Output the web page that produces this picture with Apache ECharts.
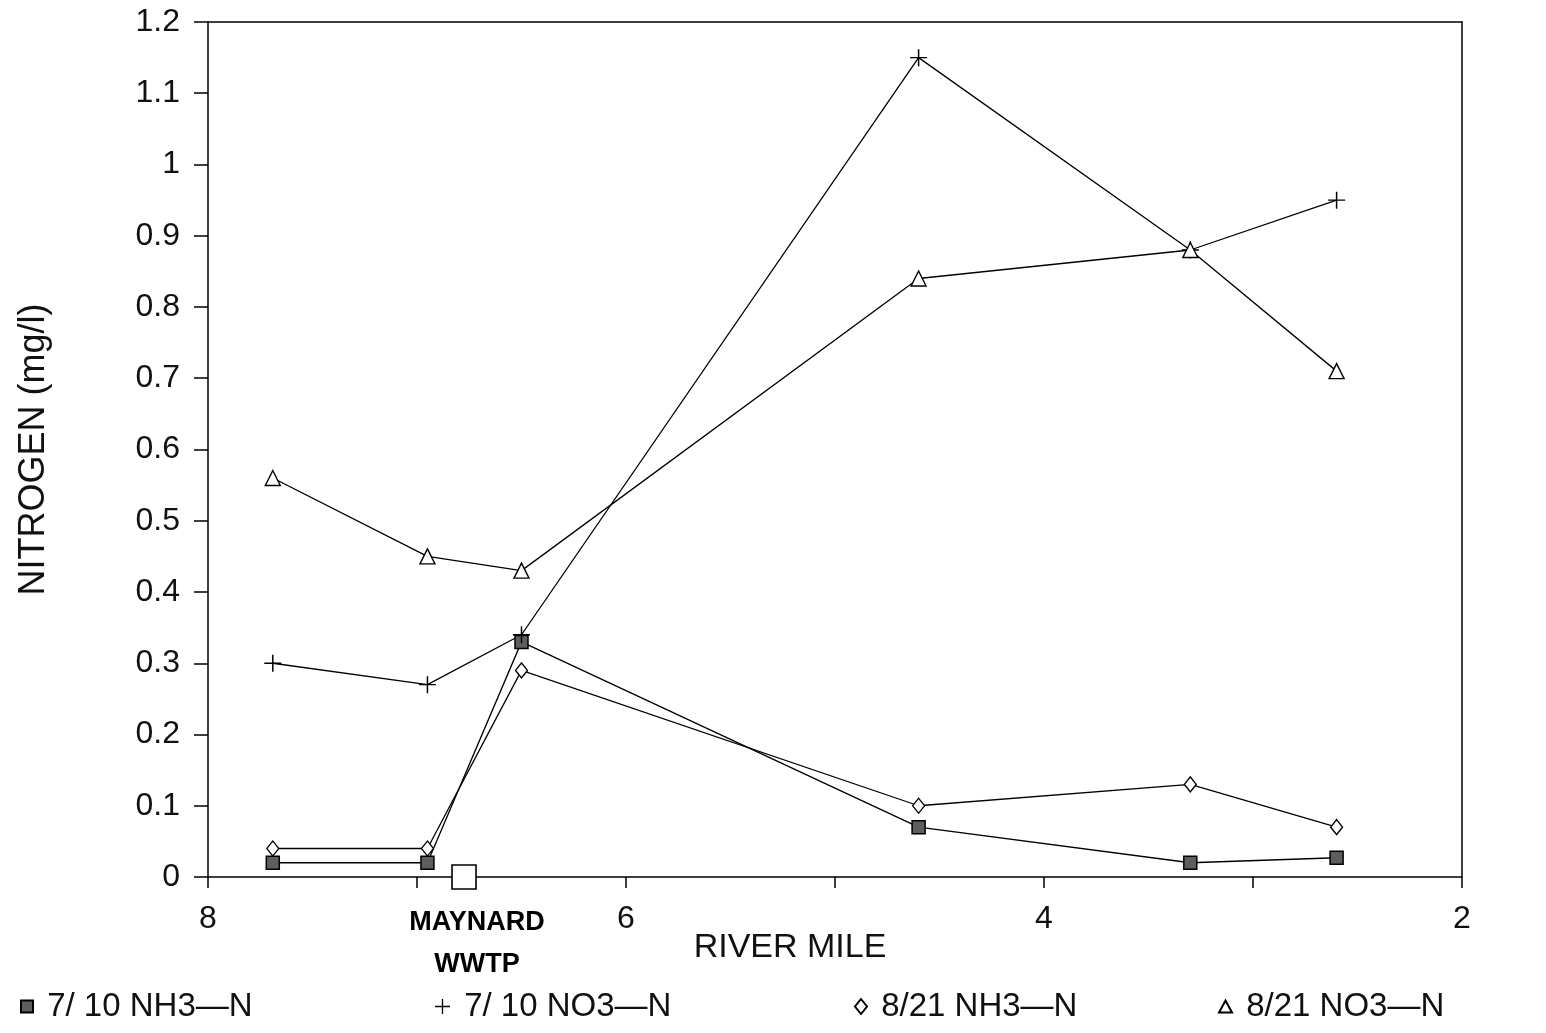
<!DOCTYPE html>
<html>
<head>
<meta charset="utf-8">
<script src="https://cdn.jsdelivr.net/npm/echarts@6/dist/echarts.min.js"></script>
<style>
html,body{margin:0;padding:0;background:#fff;}
#chart{width:1546px;height:1033px;}
</style>
</head>
<body>
<div id="chart"></div>
<script>
// River mile of each sampling station
const riverMiles = [7.69, 6.95, 6.50, 4.60, 3.30, 2.60];
// Nitrogen (mg/l)
const nh3_0710 = [0.02, 0.02, 0.33, 0.07, 0.02, 0.027];
const no3_0710 = [0.30, 0.27, 0.34, 1.15, 0.88, 0.95];
const nh3_0821 = [0.04, 0.04, 0.29, 0.10, 0.13, 0.07];
const no3_0821 = [0.56, 0.45, 0.43, 0.84, 0.88, 0.71];
const seriesNames = ['7/10 NH3-N', '7/10 NO3-N', '8/21 NH3-N', '8/21 NO3-N'];
// Maynard WWTP outfall location
const wwtpMile = 6.775;
const wwtpLabel = 'MAYNARD\nWWTP';
const xTickLabels = {8: '8', 6: '6', 4: '4', 2: '2'};
const yTickLabels = ['0','0.1','0.2','0.3','0.4','0.5','0.6','0.7','0.8','0.9','1','1.1','1.2'];

const FONT = 'Liberation Sans';
const plusPath = 'path://M7.3,0h1.4v7.3h7.3v1.4h-7.3v7.3h-1.4v-7.3h-7.3v-1.4h7.3z';

function pairs(vals){ return riverMiles.map((m,i)=>[m, vals[i]]); }

const lineBase = {
  type: 'line',
  lineStyle: {color: '#000', width: 1.3},
  emphasis: {disabled: true},
  z: 3
};

const chart = echarts.init(document.getElementById('chart'));
const option = {
  backgroundColor: '#fff',
  animation: false,
  grid: {left: 208, right: 84, top: 22, bottom: 156},
  xAxis: [{
    type: 'value', inverse: true, min: 2, max: 8, interval: 1,
    name: 'RIVER MILE', nameLocation: 'middle', nameGap: 54, nameMoveOverlap: false,
    nameTextStyle: {fontFamily: FONT, fontSize: 34, color: '#111', padding: [0, 90, 0, 0]},
    axisLine: {show: true, onZero: false, lineStyle: {color: '#000', width: 1.5}},
    axisTick: {show: true, inside: false, length: 11, lineStyle: {color: '#000', width: 1.5}},
    axisLabel: {fontFamily: FONT, fontSize: 32, color: '#111', margin: 26,
      formatter: v => xTickLabels[Math.round(v)] !== undefined && Math.abs(v-Math.round(v))<1e-6 ? xTickLabels[Math.round(v)] : ''},
    splitLine: {show: false}
  }, {
    type: 'value', position: 'top', inverse: true, min: 2, max: 8,
    axisLine: {show: true, onZero: false, lineStyle: {color: '#000', width: 1.5}},
    axisTick: {show: false}, axisLabel: {show: false}, splitLine: {show: false}
  }],
  yAxis: [{
    type: 'value', min: 0, max: 1.2, interval: 0.1,
    name: 'NITROGEN (mg/l)', nameLocation: 'middle', nameGap: 156, nameRotate: 90,
    nameTextStyle: {fontFamily: FONT, fontSize: 36, color: '#111'},
    axisLine: {show: true, onZero: false, lineStyle: {color: '#000', width: 1.5}},
    axisTick: {show: true, inside: false, length: 14, lineStyle: {color: '#000', width: 1.5}},
    axisLabel: {fontFamily: FONT, fontSize: 32, color: '#111', margin: 28,
      formatter: v => yTickLabels[Math.round(v*10)]},
    splitLine: {show: false}
  }, {
    type: 'value', position: 'right', min: 0, max: 1.2,
    axisLine: {show: true, onZero: false, lineStyle: {color: '#000', width: 1.5}},
    axisTick: {show: false}, axisLabel: {show: false}, splitLine: {show: false}
  }],
  legend: [
    {left: 15, data: [{name: seriesNames[0], icon: 'rect'}], itemWidth: 12, itemHeight: 12,
     formatter: n => ' ' + n.replace('/', '/ ').replace('-', '—')},
    {left: 430, data: [{name: seriesNames[1], icon: plusPath}], itemWidth: 15, itemHeight: 15,
     formatter: n => ' ' + n.replace('/', '/ ').replace('-', '—')},
    {left: 849, data: [{name: seriesNames[2], icon: 'diamond'}], itemWidth: 12, itemHeight: 15,
     formatter: n => ' ' + n.replace('-', '—')},
    {left: 1213, data: [{name: seriesNames[3], icon: 'triangle'}], itemWidth: 13, itemHeight: 12,
     formatter: n => ' ' + n.replace('-', '—')}
  ].map(l => Object.assign({orient: 'horizontal', selectedMode: false, bottom: 5,
     textStyle: {fontFamily: FONT, fontSize: 33, color: '#111'}}, l)),
  series: [
    Object.assign({}, lineBase, {
      name: seriesNames[0], data: pairs(nh3_0710),
      symbol: 'rect', symbolSize: 13,
      itemStyle: {color: '#5e5e5e', borderColor: '#000', borderWidth: 1.5}
    }),
    Object.assign({}, lineBase, {
      name: seriesNames[1], data: pairs(no3_0710),
      symbol: plusPath, symbolSize: 17,
      itemStyle: {color: '#000', borderWidth: 0}
    }),
    Object.assign({}, lineBase, {
      name: seriesNames[2], data: pairs(nh3_0821),
      symbol: 'diamond', symbolSize: [12, 15],
      itemStyle: {color: '#fff', borderColor: '#000', borderWidth: 1.3}
    }),
    Object.assign({}, lineBase, {
      name: seriesNames[3], data: pairs(no3_0821),
      symbol: 'triangle', symbolSize: 15,
      itemStyle: {color: '#fff', borderColor: '#000', borderWidth: 1.4}
    }),
    {
      type: 'scatter', name: 'WWTP', data: [[wwtpMile, 0]],
      symbol: 'rect', symbolSize: 24,
      itemStyle: {color: '#fff', borderColor: '#000', borderWidth: 1.6, opacity: 1},
      label: {show: true, position: 'bottom', distance: 12, offset: [13, 0],
        formatter: wwtpLabel, fontFamily: FONT, fontWeight: 'bold', fontSize: 27,
        lineHeight: 42, color: '#000', align: 'center', opacity: 1},
      emphasis: {disabled: true}, z: 4
    }
  ]
};
chart.setOption(option);
</script>
</body>
</html>
